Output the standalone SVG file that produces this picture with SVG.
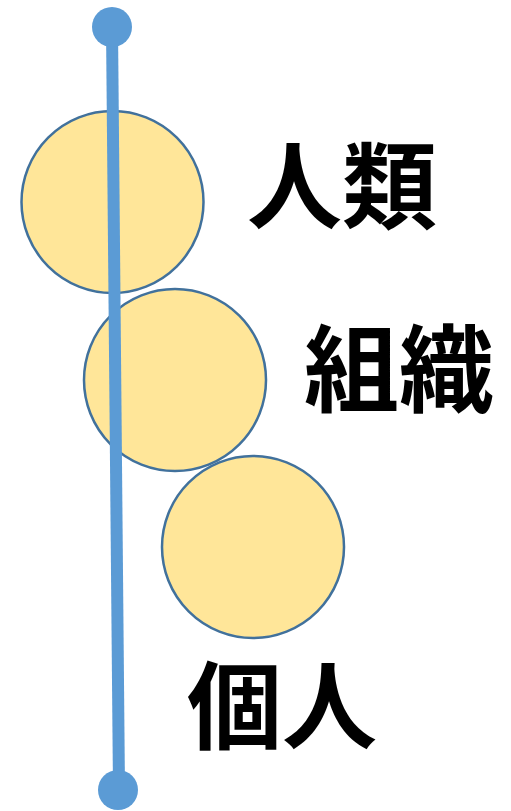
<svg xmlns="http://www.w3.org/2000/svg" width="511" height="811" viewBox="0 0 511 811">
<style>
.c{fill:#FFE699;stroke:#41719C;stroke-width:2.5}
.t{font-family:"Noto Sans CJK JP","Noto Sans CJK SC",sans-serif;font-weight:bold;font-size:95px;fill:#000}
.d{fill:#5B9BD5}
</style>
<rect width="511" height="811" fill="#fff"/>
<g id="node-jinrui"><circle class="c" cx="112.5" cy="202" r="91"/><text class="t" x="247" y="222">人類</text></g>
<g id="node-soshiki"><circle class="c" cx="175" cy="380" r="91"/><text class="t" x="304" y="405">組織</text></g>
<g id="node-kojin"><circle class="c" cx="253" cy="547" r="91"/><text class="t" x="187" y="742">個人</text></g>
<g id="connectors">
<line x1="112" y1="27" x2="119" y2="790" stroke="#5B9BD5" stroke-width="12"/>
<circle class="d" cx="112" cy="27" r="20"/>
<circle class="d" cx="118" cy="790" r="20"/>
</g>
</svg>
